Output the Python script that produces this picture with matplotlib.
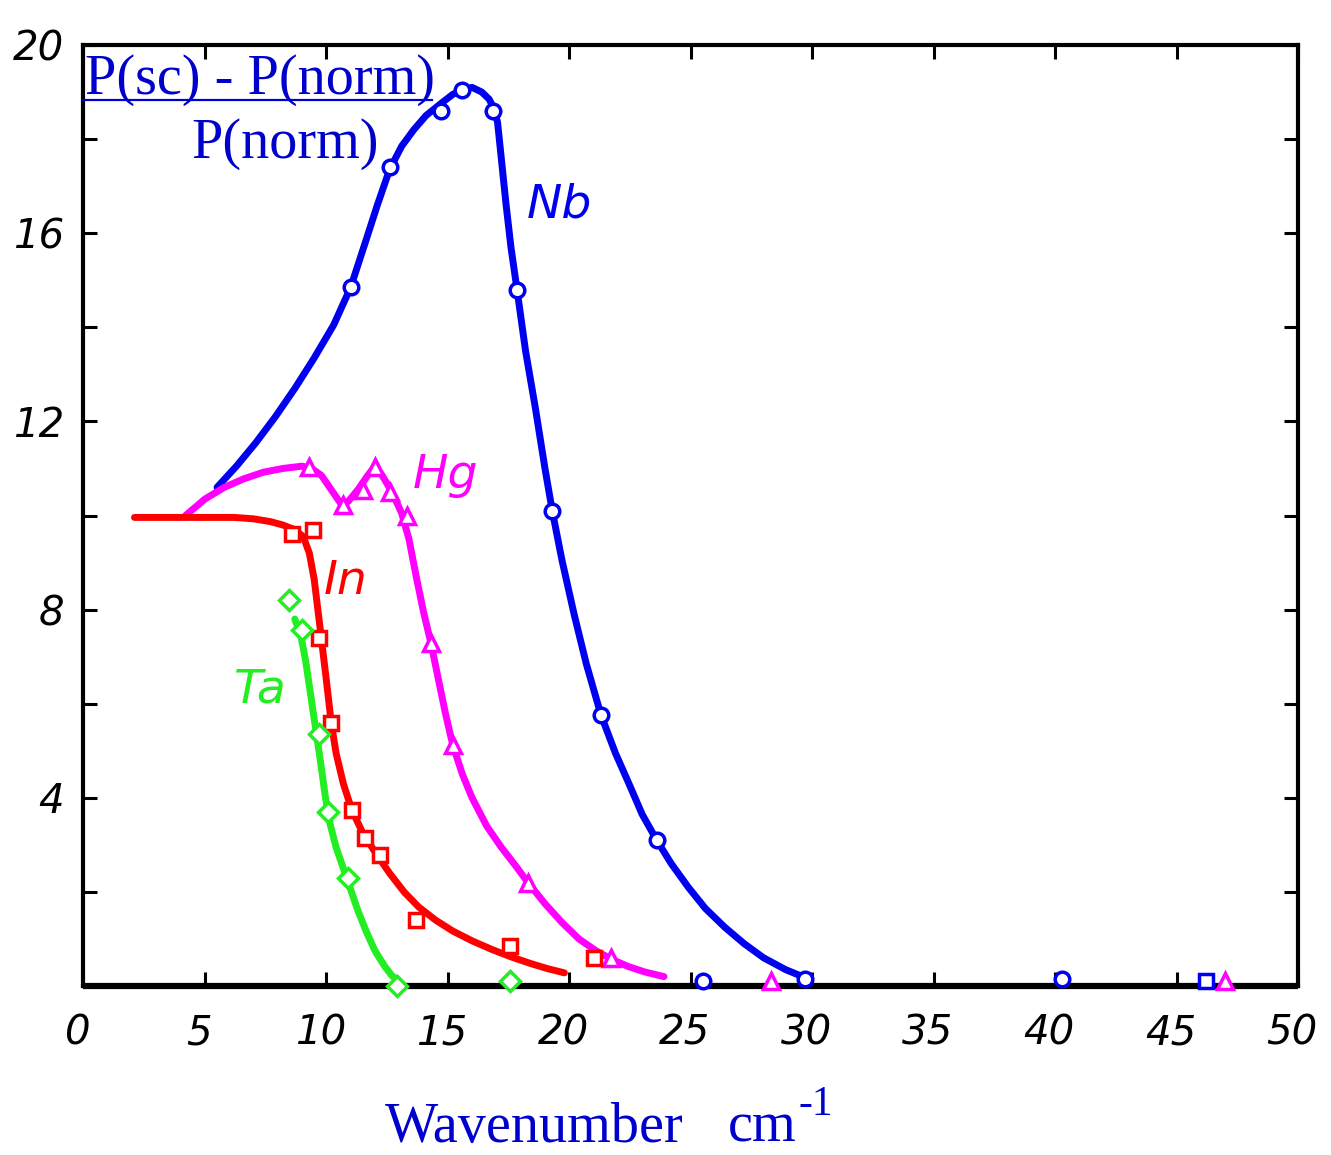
import matplotlib
matplotlib.use("Agg")
import matplotlib.pyplot as plt
from matplotlib.lines import Line2D
from matplotlib.transforms import ScaledTranslation

# ---- data ----
# Nb (blue, circles)
nb_curve_x = [5.5, 6.3, 7.1, 7.9, 8.7, 9.5, 10.3, 11.0, 11.6, 12.1, 12.6, 13.1, 13.6, 14.1, 14.7,
              15.2, 15.6, 16.0, 16.4, 16.7, 16.9, 17.05, 17.2, 17.4, 17.6, 17.85, 18.2, 18.6, 19.0,
              19.3, 19.7, 20.2, 20.7, 21.3, 21.9, 22.5, 23.0, 23.6, 24.2, 24.9, 25.6, 26.4, 27.2,
              28.0, 28.9, 29.7]
nb_curve_y = [10.6, 11.05, 11.55, 12.1, 12.7, 13.35, 14.05, 14.85, 15.8, 16.6, 17.35, 17.85, 18.2,
              18.5, 18.75, 18.95, 19.05, 19.1, 19.0, 18.85, 18.65, 18.35, 17.6, 16.6, 15.7, 14.8,
              13.5, 12.3, 11.0, 10.1, 9.05, 7.9, 6.85, 5.77, 4.95, 4.25, 3.65, 3.1, 2.6, 2.1, 1.65,
              1.25, 0.9, 0.6, 0.35, 0.18]
nb_pts_x = [11.0, 12.6, 14.7, 15.6, 16.85, 17.84, 19.3, 21.3, 23.6, 25.5, 29.7, 40.3]
nb_pts_y = [14.85, 17.4, 18.6, 19.04, 18.6, 14.8, 10.1, 5.77, 3.1, 0.1, 0.15, 0.15]
nb_sq_x = [46.2]
nb_sq_y = [0.1]

# Hg (magenta, triangles)
hg_curve_x = [4.2, 5.0, 5.8, 6.6, 7.4, 8.2, 9.0, 9.4, 9.8, 10.2, 10.6, 10.9, 11.3, 11.7, 12.0,
              12.3, 12.7, 13.1, 13.4, 13.7, 14.0, 14.3, 14.6, 14.9, 15.2, 15.6, 16.0, 16.6, 17.2,
              17.8, 18.3, 19.0, 19.7, 20.4, 21.1, 21.7, 22.4, 23.1, 23.9]
hg_curve_y = [10.0, 10.35, 10.6, 10.78, 10.92, 11.0, 11.05, 11.0, 10.85, 10.55, 10.25, 10.3, 10.55,
              10.85, 11.05, 10.85, 10.5, 10.05, 9.5, 8.7, 7.95, 7.3, 6.55, 5.8, 5.13, 4.5, 4.0,
              3.4, 2.95, 2.55, 2.2, 1.75, 1.35, 1.0, 0.75, 0.58, 0.42, 0.3, 0.2]
hg_pts_x = [9.3, 10.7, 11.5, 12.0, 12.6, 13.3, 14.3, 15.2, 18.3, 21.7, 28.3, 47.0]
hg_pts_y = [11.04, 10.23, 10.55, 11.04, 10.5, 9.98, 7.3, 5.13, 2.2, 0.6, 0.1, 0.1]

# In (red, squares)
in_curve_x = [2.1, 4.0, 6.2, 7.0, 7.7, 8.2, 8.7, 9.05, 9.3, 9.5, 9.65, 9.8, 10.0, 10.2, 10.4,
              10.7, 11.05, 11.5, 12.0, 12.6, 13.2, 13.8, 14.5, 15.2, 16.0, 16.8, 17.6, 18.4,
              19.1, 19.8]
in_curve_y = [9.96, 9.96, 9.96, 9.93, 9.87, 9.8, 9.7, 9.55, 9.2, 8.64, 8.0, 7.36, 6.5, 5.6, 4.95,
              4.3, 3.74, 3.25, 2.85, 2.4, 2.0, 1.68, 1.4, 1.17, 0.96, 0.78, 0.62, 0.48, 0.37, 0.28]
in_pts_x = [8.6, 9.45, 9.7, 10.2, 11.05, 11.6, 12.2, 13.7, 17.55, 21.0]
in_pts_y = [9.6, 9.7, 7.4, 5.6, 3.74, 3.15, 2.79, 1.4, 0.85, 0.6]

# Ta (green, diamonds)
ta_curve_x = [8.7, 8.95, 9.15, 9.35, 9.55, 9.75, 9.95, 10.15, 10.4, 10.7, 11.0, 11.3, 11.65,
              12.0, 12.4, 12.7, 13.0]
ta_curve_y = [7.8, 7.45, 6.9, 6.2, 5.5, 4.8, 4.05, 3.45, 2.95, 2.5, 2.05, 1.6, 1.15, 0.75, 0.42,
              0.22, 0.1]
ta_pts_x = [8.45, 9.0, 9.7, 10.05, 10.9, 12.9, 17.55]
ta_pts_y = [8.2, 7.57, 5.36, 3.7, 2.3, 0.0, 0.1]

x_ticks = [0, 5, 10, 15, 20, 25, 30, 35, 40, 45, 50]
y_ticks_major = [4, 8, 12, 16, 20]
y_ticks_all = [2, 4, 6, 8, 10, 12, 14, 16, 18, 20]

BLUE = "#0000F0"
MAG = "#FF00FF"
RED = "#FF0000"
GREEN = "#22EE22"
TXTBLUE = "#0000CC"

fig = plt.figure(figsize=(13.31, 11.55), dpi=100)
ax = fig.add_axes([0.0627, 0.1463, 0.9125, 0.8147])
ax.set_xlim(0, 50)
ax.set_ylim(0, 20)

lw = 5
ms = 10.5
mew = 2.5

# baseline along zero (thick black)
ax.plot([0, 50], [0, 0], color="black", lw=4.5, solid_capstyle="butt", zorder=2, clip_on=False)

def series(cx, cy, px, py, color, marker, msize):
    ax.plot(cx, cy, color=color, lw=lw, solid_joinstyle="round", solid_capstyle="round", zorder=3, clip_on=False)
    ax.plot(px, py, linestyle="none", marker=marker, markersize=msize, markerfacecolor="white",
            markeredgecolor=color, markeredgewidth=mew, zorder=4, clip_on=False)

series(nb_curve_x, nb_curve_y, nb_pts_x, nb_pts_y, BLUE, "o", ms)
ax.plot(nb_sq_x, nb_sq_y, linestyle="none", marker="s", markersize=ms, markerfacecolor="white",
        markeredgecolor=BLUE, markeredgewidth=mew, zorder=4, clip_on=False)
series(hg_curve_x, hg_curve_y, hg_pts_x, hg_pts_y, MAG, "^", ms + 1)
series(in_curve_x, in_curve_y, in_pts_x, in_pts_y, RED, "s", ms)
series(ta_curve_x, ta_curve_y, ta_pts_x, ta_pts_y, GREEN, "D", ms)

# spines & ticks
for s in ax.spines.values():
    s.set_linewidth(3)
    s.set_color("black")
ax.set_xticks(x_ticks)
ax.set_yticks(y_ticks_all)
ax.set_yticklabels([str(v) if v in y_ticks_major else "" for v in y_ticks_all])
ax.tick_params(direction="in", length=10, width=2.2, top=True, right=True,
               labelsize=29, colors="black")
ax.tick_params(axis="x", pad=20)
ax.tick_params(axis="y", pad=14)
shift = ScaledTranslation(-6 / 100, 0, fig.dpi_scale_trans)
for lab in ax.get_xticklabels():
    lab.set_transform(lab.get_transform() + shift)
for lab in ax.get_xticklabels() + ax.get_yticklabels():
    lab.set_fontstyle("italic")
    lab.set_fontfamily("DejaVu Sans")

# series names
lab_kw = dict(fontsize=34, fontstyle="italic", family="DejaVu Sans", ha="center", va="center")
ax.text(19.6, 16.6, "Nb", color=BLUE, **lab_kw)
ax.text(14.9, 10.85, "Hg", color=MAG, **lab_kw)
ax.text(10.8, 8.6, "In", color=RED, **lab_kw)
ax.text(7.3, 6.3, "Ta", color=GREEN, **lab_kw)

# y label as fraction inside the axes
serif = "Liberation Serif"
fig.text(0.0635, 0.9185, "P(sc) - P(norm)", color=TXTBLUE, fontsize=40.5, family=serif,
         ha="left", va="baseline")
fig.add_artist(Line2D([0.0627, 0.3245], [0.9135, 0.9135], color=TXTBLUE, lw=1.6,
                      transform=fig.transFigure))
fig.text(0.2145, 0.8635, "P(norm)", color=TXTBLUE, fontsize=40.5, family=serif,
         ha="center", va="baseline")

# x label
fig.text(0.2893, 0.0113, "Wavenumber", color=TXTBLUE, fontsize=40.5, family=serif,
         ha="left", va="baseline")
fig.text(0.547, 0.0113, "cm", color=TXTBLUE, fontsize=40.5, family=serif,
         ha="left", va="baseline")
fig.text(0.600, 0.0346, "-1", color=TXTBLUE, fontsize=30, family=serif,
         ha="left", va="baseline")

fig.savefig("out.png", dpi=100)
